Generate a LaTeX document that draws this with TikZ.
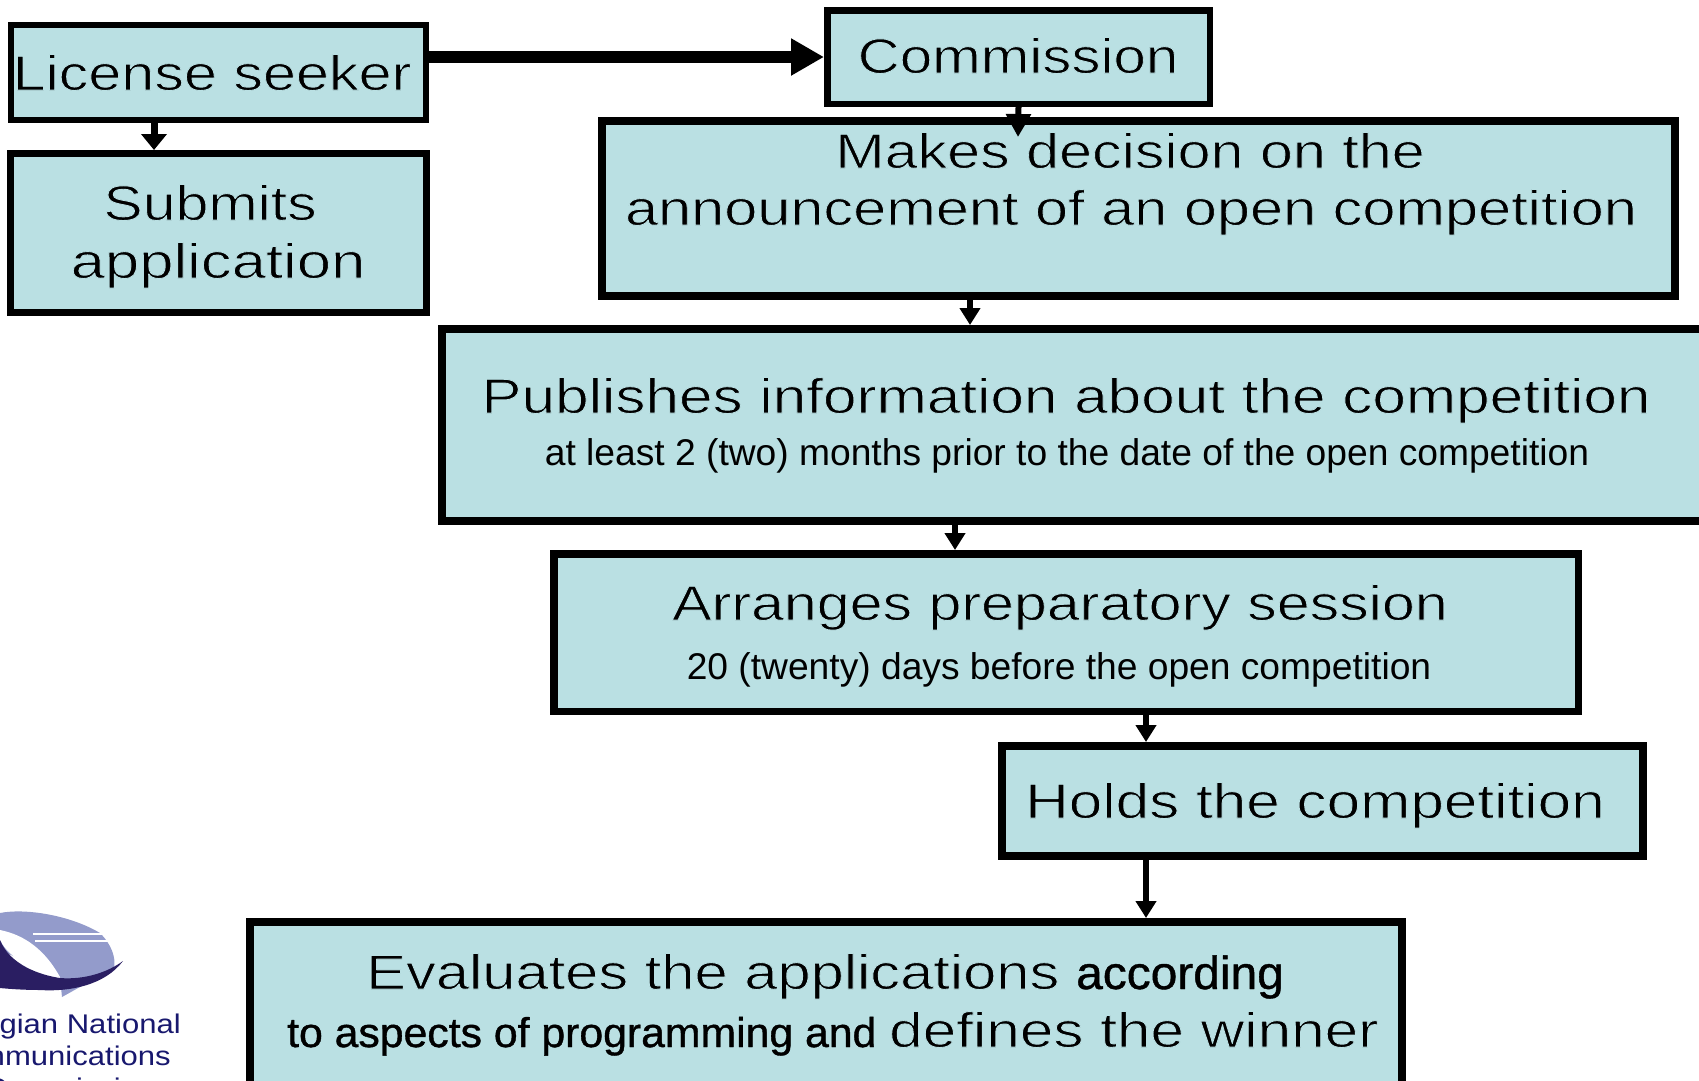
\documentclass[tikz,border=0pt]{standalone}
\usepackage{fontspec}
\usepackage{graphicx}
\setmainfont{Liberation Sans}
\usetikzlibrary{arrows.meta}
\newfontfamily\widef[FakeStretch=1.23]{Liberation Sans}
\newfontfamily\midf[FakeStretch=1.03]{Liberation Sans}
\newfontfamily\logof[FakeStretch=1.15]{Liberation Sans}
\definecolor{boxfill}{RGB}{186,224,227}
\definecolor{logolight}{RGB}{147,155,203}
\definecolor{logodark}{RGB}{42,30,98}
\definecolor{logotext}{RGB}{24,24,110}
% thin the stems of the wide type by stroking its outline in the box colour
\newcommand{\thn}[1]{\special{pdf:code 2 Tr 0.9 w 0.729 0.878 0.89 RG 1 j}#1\special{pdf:code 0 Tr 0 0 0 RG}}
% slightly heavier type for the mixed-font words
\newcommand{\hvy}[1]{\special{pdf:code 2 Tr 0.4 w 0 0 0 RG 1 j}#1\special{pdf:code 0 Tr}}
\newcommand{\sx}[2]{\scalebox{#1}[1]{\thn{#2}}}
\tikzset{
  x=1pt,y=-1pt,
  flowbox/.style={draw=black,fill=boxfill,inner sep=0pt,anchor=center},
  big/.style={anchor=base,inner sep=0pt,font=\widef\fontsize{49}{49}\selectfont},
  small/.style={anchor=base,inner sep=0pt,font=\fontsize{37.2}{37.2}\selectfont},
  logotxt/.style={anchor=base,inner sep=0pt,text=logotext,font=\logof\fontsize{27}{27}\selectfont},
  conn/.style={draw=black,line width=5.5pt,-{Triangle[length=17pt,width=20pt]}}
}
\newcommand{\flowbx}[6]{%
  \pgfmathsetmacro{\cx}{(#2+#4)/2}\pgfmathsetmacro{\cy}{(#3+#5)/2}%
  \pgfmathsetmacro{\ww}{#4-#2-#6}\pgfmathsetmacro{\hh}{#5-#3-#6}%
  \node[flowbox,line width=#6pt,minimum width=\ww pt,minimum height=\hh pt] (#1) at (\cx,\cy) {};%
}
\begin{document}
\begin{tikzpicture}
\useasboundingbox (0,0) rectangle (1699,1080);
\flowbx{lic}{8}{22}{429}{123}{6}
\flowbx{sub}{7}{150}{430}{316}{7}
\flowbx{com}{824}{7}{1213}{107}{6.5}
\flowbx{mak}{598}{117}{1679}{300}{8}
\flowbx{pub}{438}{325}{1730}{525}{8}
\flowbx{arr}{550}{550}{1582}{715}{7.5}
\flowbx{hol}{998}{742}{1647}{860}{8}
\flowbx{eva}{246}{918}{1406}{1095}{8}
% texts
\node[big] (t1) at (212,90) {\sx{.984}{License seeker}};
\node[big] (t2) at (210,220) {\sx{.98}{Submits}};
\node[big] (t3) at (218,278) {\sx{1.023}{application}};
\node[big] (t4) at (1018,73) {\sx{.967}{Commission}};
\node[big] (t5) at (1130,168) {\sx{.983}{Makes decision on the}};
\node[big] (t6) at (1131,225) {\sx{.987}{announcement of an open competition}};
\node[big] (t7) at (1066,413) {\sx{1}{Publishes information about the competition}};
\node[small] (t8) at (1067,465) {at least 2 (two) months prior to the date of the open competition};
\node[big] (t9) at (1060,620) {\sx{.981}{Arranges preparatory session}};
\node[small] (t10) at (1059,679) {20 (twenty) days before the open competition};
\node[big] (t11) at (1315,818) {\sx{1}{Holds the competition}};
\node[big,anchor=base west] (t12) at (366,989) {\sx{.99}{Evaluates the applications} {\midf\fontsize{46.5}{46.5}\selectfont\hvy{according}}};
\node[big,anchor=base west] (t13) at (287,1047) {{\midf\fontsize{41.5}{41.5}\selectfont\hvy{to aspects of programming and}} \hspace{-4pt}\sx{1}{defines the winner}};
% connectors
\draw[conn,line width=12pt,-{Triangle[length=33pt,width=35pt]}] (lic.east |- 0,57) -- (com.west |- 0,57);
\draw[conn,line width=7pt,-{Triangle[length=16pt,width=25pt]}] (154,0 |- lic.south) -- (154,0 |- sub.north);
\coordinate (tipA) at (1018,137);
\draw[conn,line width=6pt,-{Triangle[length=23pt,width=24pt]}] (com.south) -- (tipA);
\draw[conn] (970,0 |- mak.south) -- (970,0 |- pub.north);
\draw[conn] (955,0 |- pub.south) -- (955,0 |- arr.north);
\draw[conn] (1146,0 |- arr.south) -- (1146,0 |- hol.north);
\draw[conn] (1146,0 |- hol.south) -- (1146,0 |- eva.north);
% logo
\begin{scope}
\clip (0,880) rectangle (260,1080);
\fill[logolight] (0,913) .. controls (25,908) and (70,915) .. (100,933) .. controls (112,945) and (116,958) .. (114,968) -- (62,997) -- (60,977) -- (0,950) -- cycle;
\fill[white] (33,933) rectangle (102,935);
\fill[white] (35,940) rectangle (108,942);
\fill[white] (0,930) .. controls (25,935) and (45,950) .. (60,977) .. controls (35,970) and (10,960) .. (0,940) -- cycle;
\fill[logodark] (0,940) .. controls (10,965) and (40,975) .. (60,978) .. controls (85,980) and (108,972) .. (123,961) .. controls (105,985) and (70,992) .. (40,990) .. controls (25,990) and (10,989) .. (0,988) -- cycle;
\end{scope}
\node[logotxt,anchor=base east] (l1) at (181,1033) {Georgian National};
\node[logotxt,anchor=base east] (l2) at (171,1065) {Communications};
\node[logotxt] (l3) at (70,1097) {Commission};
\end{tikzpicture}
\end{document}
